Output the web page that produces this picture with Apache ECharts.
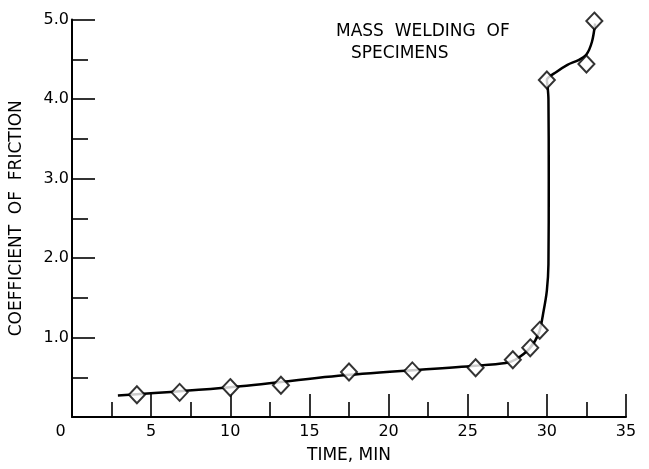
<!DOCTYPE html>
<html>
<head>
<meta charset="utf-8">
<script src="https://cdn.jsdelivr.net/npm/echarts@6/dist/echarts.min.js"></script>
<style>
	html, body { margin: 0; padding: 0; background: #fff; }
	#chart { width: 649px; height: 469px; }
</style>
</head>
<body>
<div id="chart"></div>
<script>
// measured points (diamonds)
const markTime = [4.1, 6.8, 10.0, 13.2, 17.5, 21.5, 25.5, 27.85, 28.95, 29.55, 30.0, 32.5, 33.0];
const markCof = [0.28, 0.31, 0.37, 0.40, 0.565, 0.58, 0.62, 0.72, 0.87, 1.09, 4.24, 4.44, 4.98];

// hand-drawn curve through the points
const curveTime = [2.9, 10.0, 17.5, 25.5, 27.4, 28.0, 28.9, 29.5, 29.8, 30.0, 30.1, 30.12, 30.1, 30.05, 30.0, 30.6, 31.3, 32.0, 32.5, 32.85, 33.05];
const curveCof = [0.27, 0.375, 0.53, 0.645, 0.68, 0.72, 0.86, 1.06, 1.34, 1.59, 1.92, 3.0, 4.0, 4.15, 4.24, 4.34, 4.43, 4.49, 4.56, 4.72, 4.95];

const noteLines = ['MASS  WELDING  OF', 'SPECIMENS'];

const font = 'DejaVu Sans';
const ink = '#000';
const chart = echarts.init(document.getElementById('chart'), null, { renderer: 'canvas' });

chart.setOption({
	backgroundColor: '#FFFFFF',
	animation: false,
	grid: { left: 71.5, right: 23, top: 19.5, bottom: 48.5 },
	xAxis: {
		type: 'value',
		min: 0,
		max: 35,
		interval: 5,
		name: 'TIME, MIN',
		nameLocation: 'middle',
		nameGap: 30,
		nameTextStyle: { fontFamily: font, fontSize: 17, color: ink },
		axisLine: { lineStyle: { color: ink, width: 2 } },
		axisTick: { inside: true, length: 23, lineStyle: { color: ink, width: 1.6 } },
		minorTick: { show: true, splitNumber: 2, length: 15, lineStyle: { color: ink, width: 1.6 } },
		splitLine: { show: false },
		axisLabel: {
			margin: 7,
			fontFamily: font,
			fontSize: 16,
			color: ink,
			formatter: v => (v === 0 ? '{z|0}' : String(v)),
			rich: { z: { fontFamily: font, fontSize: 16, color: ink, padding: [0, 23, 0, 0] } },
		},
	},
	yAxis: {
		type: 'value',
		min: 0,
		max: 5,
		interval: 1,
		name: 'COEFFICIENT  OF  FRICTION',
		nameLocation: 'middle',
		nameGap: 47,
		nameTextStyle: { fontFamily: font, fontSize: 17, color: ink },
		axisLine: { show: true, lineStyle: { color: ink, width: 2 } },
		axisTick: { show: true, inside: true, length: 23, lineStyle: { color: ink, width: 1.6 } },
		minorTick: { show: true, splitNumber: 2, length: 16, lineStyle: { color: ink, width: 1.6 } },
		splitLine: { show: false },
		axisLabel: {
			margin: 3,
			fontFamily: font,
			fontSize: 16,
			color: ink,
			formatter: v => (v === 0 ? '' : v.toFixed(1)),
		},
	},
	graphic: [
		{
			type: 'text',
			left: 336,
			top: 23,
			style: { text: noteLines[0], font: '17px "DejaVu Sans"', fill: ink },
		},
		{
			type: 'text',
			left: 351,
			top: 45,
			style: { text: noteLines[1], font: '17px "DejaVu Sans"', fill: ink },
		},
	],
	series: [
		{
			type: 'line',
			data: curveTime.map((t, i) => [t, curveCof[i]]),
			smooth: 0.3,
			showSymbol: false,
			lineStyle: { color: ink, width: 2.5 },
			z: 2,
		},
		{
			type: 'scatter',
			data: markTime.map((t, i) => [t, markCof[i]]),
			symbol: 'diamond',
			symbolSize: [16, 17],
			itemStyle: { color: '#fff', borderColor: ink, borderWidth: 2 },
			z: 3,
		},
	],
});
</script>
</body>
</html>
